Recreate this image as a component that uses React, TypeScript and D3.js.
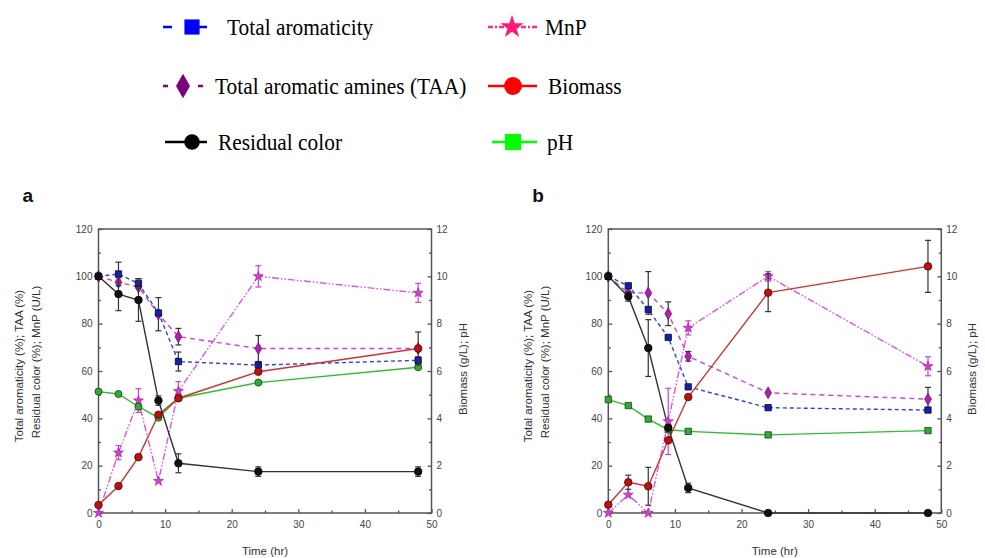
import React, { useEffect, useRef } from "react";
import * as d3 from "d3";

// sampling times (hr)
const times = [0, 3, 6, 9, 12, 24, 48];

// panel a
const residA = [100, 92.5, 90, 47.5, 21, 17.5, 17.5];
const residErrA = [0, 7, 9, 2, 4, 2, 2];
const aromA = [100, 101, 97, 84.5, 64, 62.5, 64.5];
const aromErrA = [0, 5, 2, 0, 4, 0, 1.5];
const taaA = [100, 97.5, 95.5, 84, 74.5, 69.5, 69.5];
const taaErrA = [0, 0, 0, 7, 3.5, 5.5, 0];
const mnpA = [0, 25.5, 47.5, 13.5, 51.5, 100, 93];
const mnpErrA = [0, 3, 5, 0, 4, 4.5, 4];
const bioA = [0.34, 1.14, 2.36, 4.15, 4.85, 5.97, 6.95];
const bioErrA = [0, 0, 0, 0, 0, 0, 0.7];
const phA = [5.13, 5.03, 4.49, 4.03, 4.85, 5.51, 6.16];

// panel b
const residB = [100, 91.5, 69.7, 36, 10.6, 0, 0];
const residErrB = [0, 2, 12, 0, 2, 0, 0];
const aromB = [100, 96, 86, 74.2, 53.3, 44.5, 43.5];
const aromErrB = [0, 0, 0, 0, 0, 0, 0];
const taaB = [100, 93, 93, 84.2, 66.2, 50.8, 48.1];
const taaErrB = [0, 0, 9, 5, 2, 0, 5];
const mnpB = [0, 7.7, 0, 38.7, 78.2, 100, 62];
const mnpErrB = [0, 0, 0, 14, 3, 2, 4];
const bioB = [0.35, 1.3, 1.13, 3.07, 4.9, 9.31, 10.42];
const bioErrB = [0, 0.3, 0.8, 0, 0, 0.8, 1.1];
const phB = [4.79, 4.54, 3.97, 3.52, 3.45, 3.3, 3.48];

const leftTicks = [0, 20, 40, 60, 80, 100, 120];
const leftMinor = [10, 30, 50, 70, 90, 110];
const rightTicks = [0, 2, 4, 6, 8, 10, 12];
const rightMinor = [1, 3, 5, 7, 9, 11];
const xTicks = [0, 10, 20, 30, 40, 50];
const xMinor = [5, 15, 25, 35, 45];

const sans = "Liberation Sans, Arial, sans-serif";
const serif = "Liberation Serif, Times New Roman, serif";

const App = () => {
	const svgRef = useRef(null);

	useEffect(() => {
		const svg = d3.select(svgRef.current);
		svg.selectAll("*").remove();

		const panels = [
			{ letter: "a", left: 98.5, resid: residA, residErr: residErrA, arom: aromA, aromErr: aromErrA, taa: taaA, taaErr: taaErrA, mnp: mnpA, mnpErr: mnpErrA, bio: bioA, bioErr: bioErrA, ph: phA, phShape: "circle" },
			{ letter: "b", left: 608.3, resid: residB, residErr: residErrB, arom: aromB, aromErr: aromErrB, taa: taaB, taaErr: taaErrB, mnp: mnpB, mnpErr: mnpErrB, bio: bioB, bioErr: bioErrB, ph: phB, phShape: "square" },
		];
		const top = 229, bottom = 513, w = 333;

		panels.forEach(p => {
			const x = d3.scaleLinear().domain([0, 50]).range([p.left, p.left + w]);
			const y = d3.scaleLinear().domain([0, 120]).range([bottom, top]);
			const y2 = d3.scaleLinear().domain([0, 12]).range([bottom, top]);
			const g = svg.append("g");

			// frame
			g.append("rect")
				.attr("x", p.left).attr("y", top).attr("width", w).attr("height", bottom - top)
				.style("fill", "none").style("stroke", "#555").style("stroke-width", 1.5);

			const styleAxis = (sel) => {
				sel.select(".domain").remove();
				sel.selectAll("line").style("stroke", "#555").style("stroke-width", 1.3);
				sel.selectAll("text").style("font-family", sans).style("font-size", "10px").style("fill", "#444");
			};

			g.append("g").attr("transform", `translate(0,${bottom})`)
				.call(d3.axisBottom(x).tickValues(xTicks).tickSize(-4).tickPadding(8)).call(styleAxis);
			g.append("g").attr("transform", `translate(0,${bottom})`)
				.call(d3.axisBottom(x).tickValues(xMinor).tickSize(-2.5).tickFormat(() => "")).call(styleAxis);
			g.append("g").attr("transform", `translate(${p.left},0)`)
				.call(d3.axisLeft(y).tickValues(leftTicks).tickSize(-4).tickPadding(6)).call(styleAxis);
			g.append("g").attr("transform", `translate(${p.left},0)`)
				.call(d3.axisLeft(y).tickValues(leftMinor).tickSize(-2.5).tickFormat(() => "")).call(styleAxis);
			g.append("g").attr("transform", `translate(${p.left + w},0)`)
				.call(d3.axisRight(y2).tickValues(rightTicks).tickSize(-4).tickPadding(5)).call(styleAxis);
			g.append("g").attr("transform", `translate(${p.left + w},0)`)
				.call(d3.axisRight(y2).tickValues(rightMinor).tickSize(-2.5).tickFormat(() => "")).call(styleAxis);

			// titles
			g.append("text").attr("x", x(25)).attr("y", 555).attr("text-anchor", "middle")
				.style("font-family", sans).style("font-size", "11.5px").style("fill", "#333").text("Time (hr)");
			g.append("text").attr("transform", `translate(${p.left - 76},366) rotate(-90)`).attr("text-anchor", "middle")
				.style("font-family", sans).style("font-size", "11.5px").style("fill", "#333").text("Total aromaticity (%);  TAA (%)");
			g.append("text").attr("transform", `translate(${p.left - 59},362) rotate(-90)`).attr("text-anchor", "middle")
				.style("font-family", sans).style("font-size", "11.5px").style("fill", "#333").text("Residual color (%); MnP (U/L)");
			g.append("text").attr("transform", `translate(${p.left + w + 35},369) rotate(-90)`).attr("text-anchor", "middle")
				.style("font-family", sans).style("font-size", "11.5px").style("fill", "#333").text("Biomass (g/L);  pH");
			g.append("text").attr("x", p.left - 76).attr("y", 202)
				.style("font-family", sans).style("font-size", "19px").style("font-weight", "bold").style("fill", "#111").text(p.letter);

			const series = [
				{ vals: p.taa, err: p.taaErr, sc: y, color: "#cc44cc", dash: "5,4", shape: d3.symbolDiamond, size: 40, fill: "#aa22aa", stroke: "#771177", errColor: "#333" },
				{ vals: p.arom, err: p.aromErr, sc: y, color: "#3344cc", dash: "4,3", shape: d3.symbolSquare, size: 40, fill: "#1a2299", stroke: "#000055", errColor: "#333" },
				{ vals: p.mnp, err: p.mnpErr, sc: y, color: "#dd55dd", dash: "7,2,1.5,2,1.5,2", shape: d3.symbolStar, size: 30, fill: "#cc44cc", stroke: "#aa22aa", errColor: "#cc44cc" },
				{ vals: p.ph, err: null, sc: y2, color: "#33bb33", dash: null, shape: p.phShape === "circle" ? d3.symbolCircle : d3.symbolSquare, size: 40, fill: "#33aa33", stroke: "#114411", errColor: "#333" },
				{ vals: p.bio, err: p.bioErr, sc: y2, color: "#cc3333", dash: null, shape: d3.symbolCircle, size: 45, fill: "#bb1111", stroke: "#550000", errColor: "#333" },
				{ vals: p.resid, err: p.residErr, sc: y, color: "#333", dash: null, shape: d3.symbolCircle, size: 45, fill: "#111", stroke: "#000", errColor: "#333" },
			];

			series.forEach(s => {
				const line = d3.line().x((d, i) => x(times[i])).y(d => s.sc(d));
				g.append("path").datum(s.vals).attr("d", line)
					.style("fill", "none").style("stroke", s.color).style("stroke-width", 1.4)
					.style("stroke-dasharray", s.dash ? s.dash : null);
			});

			series.forEach(s => {
				if (s.err) {
					const eg = g.append("g");
					s.vals.forEach((v, i) => {
						const e = s.err[i];
						if (!e) return;
						const cx = x(times[i]);
						const y1 = s.sc(v + e), y0 = s.sc(v - e);
						eg.append("line").attr("x1", cx).attr("x2", cx).attr("y1", y1).attr("y2", y0)
							.style("stroke", s.errColor).style("stroke-width", 1.2);
						[y1, y0].forEach(yy => {
							eg.append("line").attr("x1", cx - 3).attr("x2", cx + 3).attr("y1", yy).attr("y2", yy)
								.style("stroke", s.errColor).style("stroke-width", 1.2);
						});
					});
				}
				g.append("g").selectAll("path").data(s.vals).join("path")
					.attr("transform", (d, i) => `translate(${x(times[i])},${s.sc(d)})`)
					.attr("d", d3.symbol().type(s.shape).size(s.size))
					.style("fill", s.fill).style("stroke", s.stroke).style("stroke-width", 0.8);
			});
		});

		// legend
		const lg = svg.append("g");
		const legendItems = [
			{ label: "Total aromaticity", lx1: 163, lx2: 215, cx: 192, cy: 27, tx: 227, color: "#0000ff", dash: "9,26", shape: d3.symbolSquare, size: 230, fill: "#0000ff" },
			{ label: "Total aromatic amines (TAA)", lx1: 163, lx2: 205, cx: 183, cy: 86, tx: 215, color: "#800080", dash: "5,30", shape: d3.symbolDiamond, size: 170, fill: "#7b007b" },
			{ label: "Residual color", lx1: 165, lx2: 207, cx: 192, cy: 142, tx: 218, color: "#000", dash: null, shape: d3.symbolCircle, size: 190, fill: "#000" },
			{ label: "MnP", lx1: 488, lx2: 537, cx: 512, cy: 27, tx: 545, color: "#ff2a8a", dash: "5,2,2,2", shape: d3.symbolStar, size: 170, fill: "#ff1a75" },
			{ label: "Biomass", lx1: 488, lx2: 537, cx: 513, cy: 86, tx: 548, color: "#ff0000", dash: null, shape: d3.symbolCircle, size: 250, fill: "#ff0000" },
			{ label: "pH", lx1: 492, lx2: 537, cx: 513, cy: 142, tx: 547, color: "#00ff00", dash: null, shape: d3.symbolSquare, size: 260, fill: "#00ff00" },
		];
		legendItems.forEach(it => {
			lg.append("line").attr("x1", it.lx1).attr("x2", it.lx2).attr("y1", it.cy).attr("y2", it.cy)
				.style("stroke", it.color).style("stroke-width", 2.5)
				.style("stroke-dasharray", it.dash ? it.dash : null);
			lg.append("path").attr("transform", `translate(${it.cx},${it.cy})`)
				.attr("d", d3.symbol().type(it.shape).size(it.size)).style("fill", it.fill);
			// condensed serif text like the original legend
			lg.append("text").attr("transform", `translate(${it.tx},${it.cy + 8}) scale(0.93,1)`)
				.style("font-family", serif).style("font-size", "23px").style("fill", "#000").text(it.label);
		});
	}, []);

	return (
		<svg ref={svgRef} width={985} height={558} style={{ position: "absolute", left: 0, top: 0, background: "#fff" }}></svg>
	);
};

export default App;
